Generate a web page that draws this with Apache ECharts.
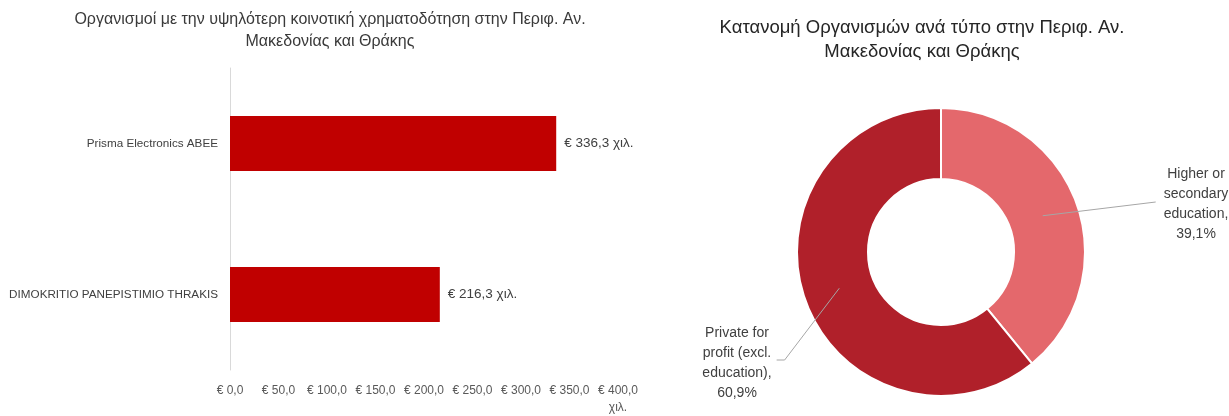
<!DOCTYPE html>
<html>
<head>
<meta charset="utf-8">
<script src="https://cdn.jsdelivr.net/npm/echarts@6/dist/echarts.min.js"></script>
<style>
html,body{margin:0;padding:0;background:#fff;}
#chart{width:1229px;height:416px;}
</style>
</head>
<body>
<div id="chart"></div>
<script>
// ---- Data ----
const barTitle = 'Οργανισμοί με την υψηλότερη κοινοτική χρηματοδότηση στην Περιφ. Αν.\nΜακεδονίας και Θράκης';
const pieTitle = 'Κατανομή Οργανισμών ανά τύπο στην Περιφ. Αν.\nΜακεδονίας και Θράκης';
const barCategories = ['Prisma Electronics ABEE', 'DIMOKRITIO PANEPISTIMIO THRAKIS'];
const barValues = [336.3, 216.3];
const xMin = 0, xMax = 400, xStep = 50;
const unitSuffix = 'χιλ.';
const pieCategories = ['Higher or secondary education', 'Private for profit (excl. education)'];
const pieShares = [39.1, 60.9];
const pieLabelTexts = ['Higher or\nsecondary\neducation,', 'Private for\nprofit (excl.\neducation),'];
const pieColors = ['#E4686C', '#B0202A'];

// ---- Chart ----
const FONT = 'Liberation Sans, Arial, sans-serif';
const fmtNum = v => v.toFixed(1).replace('.', ',');
const PIE_CX = 941, PIE_CY = 252;
const PIE_R = [73, 144];

const pieData = pieCategories.map((n, i) => ({name: n, value: pieShares[i], itemStyle: {color: pieColors[i]}}));

const chart = echarts.init(document.getElementById('chart'), null, {renderer: 'canvas'});
chart.setOption({
  animation: false,
  textStyle: {fontFamily: FONT},
  title: [
    {text: barTitle, left: 330, top: 9, padding: 0, textAlign: 'center',
     textStyle: {fontSize: 16, fontWeight: 'normal', color: '#3a3a3a', lineHeight: 22, fontFamily: FONT}},
    {text: pieTitle, left: 922, top: 16, padding: 0, textAlign: 'center',
     textStyle: {fontSize: 18.5, fontWeight: 'normal', color: '#262626', lineHeight: 24, fontFamily: FONT}}
  ],
  grid: {left: 230, top: 68, width: 388, height: 306, containLabel: false},
  xAxis: {
    type: 'value', min: xMin, max: xMax, interval: xStep,
    splitLine: {show: false}, axisLine: {show: false}, axisTick: {show: false},
    axisLabel: {
      color: '#595959', fontSize: 12, margin: 12, lineHeight: 17, fontFamily: FONT,
      formatter: v => '€ ' + fmtNum(v) + (v === xMax ? '\n' + unitSuffix : '')
    }
  },
  yAxis: {
    type: 'category', inverse: true, data: barCategories,
    axisLine: {show: true, lineStyle: {color: '#D9D9D9', width: 1}},
    axisTick: {show: false},
    axisLabel: {color: '#404040', fontSize: 11.7, margin: 12, fontFamily: FONT}
  },
  series: [
    {
      type: 'bar', data: barValues, barWidth: 55,
      itemStyle: {color: '#C00000'},
      label: {
        show: true, position: 'right', distance: 8, color: '#404040', fontSize: 13.5, fontFamily: FONT,
        formatter: p => '€ ' + fmtNum(p.value) + ' ' + unitSuffix
      }
    },
    {
      type: 'pie', center: [PIE_CX, PIE_CY], radius: PIE_R, z: 2,
      startAngle: 90, clockwise: true, avoidLabelOverlap: false,
      data: pieData,
      itemStyle: {borderColor: '#ffffff', borderWidth: 2},
      label: {show: false}, labelLine: {show: false}
    },
    {
      type: 'pie', center: [PIE_CX, PIE_CY], radius: PIE_R, z: 5, silent: true,
      startAngle: 90, clockwise: true, avoidLabelOverlap: false,
      data: pieData.map(d => ({name: d.name, value: d.value})),
      itemStyle: {color: 'rgba(0,0,0,0)', borderWidth: 0},
      label: {
        show: true, position: 'outside', color: '#404040', fontSize: 14, lineHeight: 20,
        align: 'center', fontFamily: FONT,
        formatter: p => pieLabelTexts[p.dataIndex] + '\n' + fmtNum(p.value) + '%'
      },
      labelLine: {show: true, length: 10, length2: 10, lineStyle: {color: '#A6A6A6', width: 1}},
      labelLayout: function (p) {
        const pts = p.labelLinePoints;
        const w = p.labelRect.width;
        let anchor = null;
        if (pts) {
          anchor = [PIE_CX + (pts[0][0] - PIE_CX) * 0.75, PIE_CY + (pts[0][1] - PIE_CY) * 0.75];
        }
        if (p.dataIndex === 0) {
          const lx = PIE_CX + 255, ly = PIE_CY - 48;
          const edge = lx - w / 2;
          const out = {x: lx, y: ly, align: 'center', verticalAlign: 'middle'};
          if (anchor) out.labelLinePoints = [anchor, [edge - 8, ly - 2], [edge - 8, ly - 2]];
          return out;
        } else {
          const lx = PIE_CX - 204, ly = PIE_CY + 111;
          const edge = lx + w / 2;
          const out = {x: lx, y: ly, align: 'center', verticalAlign: 'middle'};
          if (anchor) out.labelLinePoints = [anchor, [edge + 13, ly - 3], [edge + 5, ly - 3]];
          return out;
        }
      }
    }
  ]
});
</script>
</body>
</html>
